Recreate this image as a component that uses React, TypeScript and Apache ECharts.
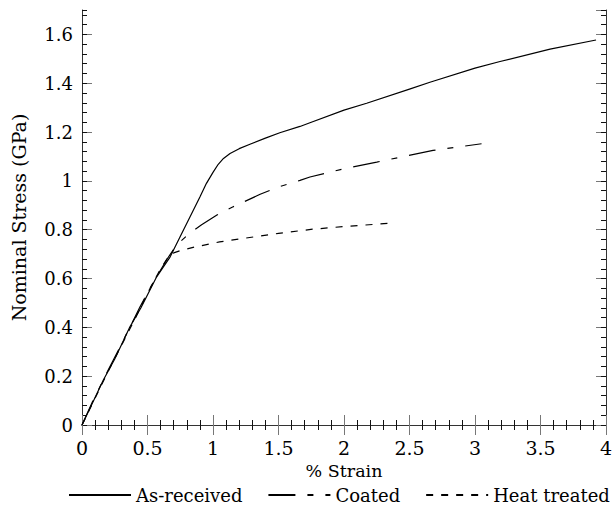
import React, { useEffect, useRef } from "react";
import * as echarts from "echarts";

const seriesNames = ["As-received", "Coated", "Heat treated"];

const asReceived: [number, number][] = [
  [0, 0], [0.08, 0.09], [0.163, 0.184], [0.25, 0.27], [0.366, 0.402], [0.45, 0.48],
  [0.57, 0.607], [0.62, 0.647], [0.672, 0.688], [0.748, 0.77], [0.824, 0.852],
  [0.9, 0.934], [0.95, 0.99], [1.0, 1.035], [1.04, 1.068], [1.08, 1.092],
  [1.13, 1.112], [1.2, 1.132], [1.282, 1.15], [1.4, 1.175], [1.51, 1.197],
  [1.664, 1.223], [1.74, 1.238], [2.0, 1.29], [2.173, 1.318], [2.5, 1.376],
  [2.656, 1.404], [3.0, 1.462], [3.191, 1.489], [3.573, 1.54], [3.924, 1.577],
];

const coated: [number, number][] = [
  [0, 0], [0.08, 0.095], [0.2, 0.225], [0.3, 0.33], [0.443, 0.484], [0.55, 0.59],
  [0.65, 0.68], [0.7, 0.72], [0.748, 0.75], [0.82, 0.785], [0.913, 0.82],
  [1.03, 0.86], [1.15, 0.893], [1.36, 0.945], [1.5, 0.975], [1.664, 1.002],
  [1.74, 1.016], [2.0, 1.05], [2.25, 1.077], [2.68, 1.125], [3.05, 1.152],
];

const heatTreated: [number, number][] = [
  [0, 0], [0.1, 0.11], [0.2, 0.22], [0.3, 0.325], [0.4, 0.43], [0.5, 0.54],
  [0.6, 0.64], [0.66, 0.69], [0.7, 0.705], [0.76, 0.716], [0.86, 0.729],
  [1.05, 0.75], [1.28, 0.768], [1.5, 0.785], [1.76, 0.802], [2.0, 0.813],
  [2.34, 0.826],
];

const xTicks = { min: 0, max: 4, interval: 0.5 };
const yTicks = { min: 0, max: 1.7, interval: 0.2, minorInterval: 0.04 };

const FONT = "DejaVu Serif";

export default function App() {
  const ref = useRef<HTMLDivElement>(null);
  useEffect(() => {
    if (!ref.current) return;
    const chart = echarts.init(ref.current, undefined, { renderer: "svg" });
    const majorTickColor = "#777";
    const minorTickColor = "#111";
    const axisLineColor = "#333";
    const xCommon = {
      type: "value" as const,
      min: xTicks.min,
      max: xTicks.max,
      interval: xTicks.interval,
      splitLine: { show: false },
      axisLine: { show: true, lineStyle: { color: axisLineColor, width: 1 } },
      axisTick: { show: true, inside: true, length: 10, lineStyle: { color: majorTickColor } },
      minorTick: { show: true, splitNumber: 5, length: 5, lineStyle: { color: minorTickColor } },
      minorSplitLine: { show: false },
    };
    const yMajor = {
      type: "value" as const,
      min: yTicks.min,
      max: yTicks.max,
      interval: yTicks.interval,
      splitLine: { show: false },
      axisLine: { show: true, lineStyle: { color: axisLineColor, width: 1 } },
      axisTick: { show: true, inside: true, length: 10, lineStyle: { color: majorTickColor } },
    };
    const yMinor = {
      type: "value" as const,
      min: yTicks.min,
      max: yTicks.max,
      interval: yTicks.minorInterval,
      splitLine: { show: false },
      axisLine: { show: false },
      axisLabel: { show: false },
      axisTick: { show: true, inside: true, length: 5, lineStyle: { color: minorTickColor } },
    };
    chart.setOption({
      animation: false,
      textStyle: { fontFamily: FONT, color: "#000" },
      grid: { left: 82, right: 10, top: 10, bottom: 82, containLabel: false },
      legend: {
        left: 68,
        top: 484,
        width: 548,
        itemWidth: 62,
        itemHeight: 10,
        itemGap: 25,
        padding: 0,
        itemStyle: { color: "transparent", borderWidth: 0, opacity: 0 },
        textStyle: { fontFamily: FONT, fontSize: 18, color: "#000", lineHeight: 22 },
        data: seriesNames,
      },
      xAxis: [
        {
          ...xCommon,
          position: "bottom",
          name: "% Strain",
          nameLocation: "middle",
          nameGap: 29,
          nameTextStyle: { fontFamily: FONT, fontSize: 17.5, color: "#000" },
          axisLabel: {
            show: true,
            margin: 13,
            fontFamily: FONT,
            fontSize: 19,
            color: "#000",
            formatter: (v: number) => String(parseFloat(v.toFixed(1))),
          },
        },
        { ...xCommon, position: "top", axisLabel: { show: false } },
      ],
      yAxis: [
        {
          ...yMajor,
          position: "left",
          name: "Nominal Stress (GPa)",
          nameLocation: "middle",
          nameGap: 54,
          nameTextStyle: { fontFamily: FONT, fontSize: 19, color: "#000" },
          axisLabel: {
            show: true,
            margin: 9,
            fontFamily: FONT,
            fontSize: 18,
            color: "#000",
            showMaxLabel: false,
            formatter: (v: number) => (Math.abs(v - yTicks.max) < 1e-6 ? "" : String(parseFloat(v.toFixed(1)))),
          },
        },
        { ...yMinor, position: "left" },
        { ...yMajor, position: "right", axisLabel: { show: false } },
        { ...yMinor, position: "right" },
      ],
      series: [
        {
          name: seriesNames[0],
          type: "line",
          data: asReceived,
          symbol: "none",
          lineStyle: { color: "#000", width: 1.2, type: "solid" },
          itemStyle: { color: "#000" },
        },
        {
          name: seriesNames[1],
          type: "line",
          data: coated,
          symbol: "none",
          lineStyle: { color: "#000", width: 1.2, type: [27, 12, 6, 12] },
          itemStyle: { color: "#000" },
        },
        {
          name: seriesNames[2],
          type: "line",
          data: heatTreated,
          symbol: "none",
          lineStyle: { color: "#000", width: 1.2, type: [7, 8] },
          itemStyle: { color: "#000" },
        },
      ],
    });
    return () => chart.dispose();
  }, []);
  return <div ref={ref} style={{ width: 616, height: 507, position: "absolute", left: 0, top: 0 }} />;
}
